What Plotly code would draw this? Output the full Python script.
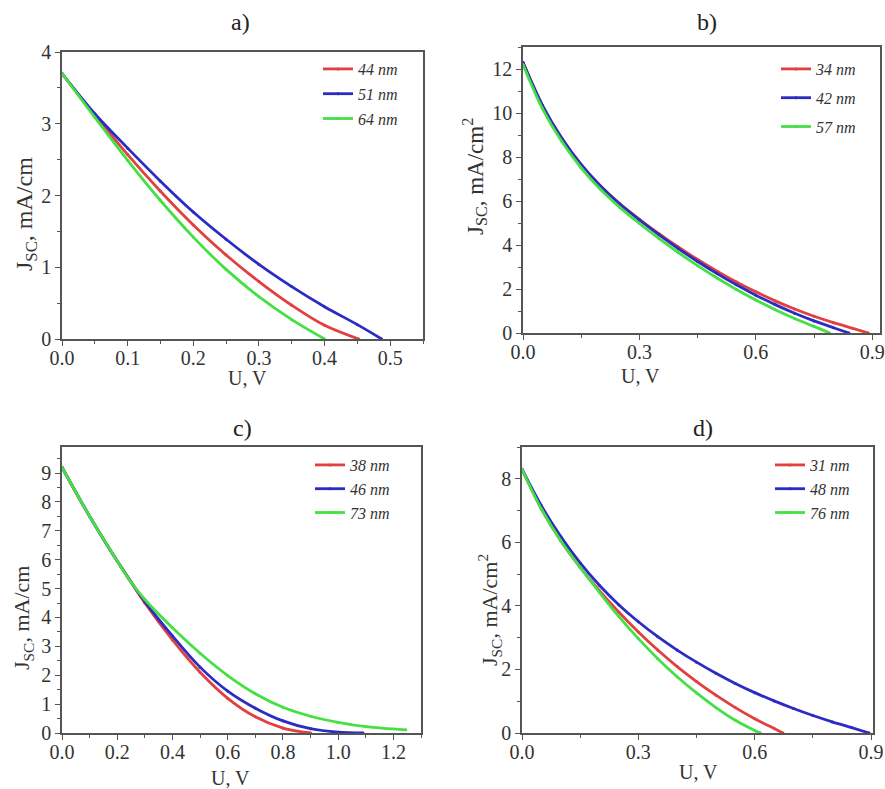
import plotly.graph_objects as go

# ---------------- data ----------------
# Panel a)
a_labels = ["44 nm", "51 nm", "64 nm"]
a_u_44 = [0, 0.05, 0.10, 0.15, 0.20, 0.25, 0.30, 0.35, 0.40, 0.452]
a_j_44 = [3.70, 3.12, 2.57, 2.06, 1.59, 1.17, 0.80, 0.47, 0.19, 0.0]
a_u_51 = [0, 0.05, 0.10, 0.15, 0.20, 0.25, 0.30, 0.35, 0.40, 0.45, 0.487]
a_j_51 = [3.70, 3.14, 2.66, 2.20, 1.77, 1.39, 1.04, 0.73, 0.45, 0.20, 0.0]
a_u_64 = [0, 0.05, 0.10, 0.15, 0.20, 0.25, 0.30, 0.35, 0.40]
a_j_64 = [3.70, 3.09, 2.49, 1.93, 1.42, 0.97, 0.59, 0.27, 0.0]

# Panel b)
b_labels = ["34 nm", "42 nm", "57 nm"]
b_u_34 = [0, 0.05, 0.10, 0.15, 0.20, 0.25, 0.30, 0.35, 0.40, 0.45, 0.50, 0.55, 0.60, 0.65, 0.70, 0.75, 0.80, 0.85, 0.89]
b_j_34 = [12.3, 10.35, 8.85, 7.65, 6.68, 5.87, 5.17, 4.52, 3.91, 3.34, 2.81, 2.32, 1.87, 1.46, 1.09, 0.76, 0.47, 0.21, 0.0]
b_u_42 = [0, 0.05, 0.10, 0.15, 0.20, 0.25, 0.30, 0.35, 0.40, 0.45, 0.50, 0.55, 0.60, 0.65, 0.70, 0.75, 0.80, 0.84]
b_j_42 = [12.3, 10.35, 8.85, 7.65, 6.67, 5.85, 5.14, 4.47, 3.84, 3.25, 2.70, 2.19, 1.72, 1.29, 0.90, 0.55, 0.24, 0.0]
b_u_57 = [0, 0.05, 0.10, 0.15, 0.20, 0.25, 0.30, 0.35, 0.40, 0.45, 0.50, 0.55, 0.60, 0.65, 0.70, 0.75, 0.79]
b_j_57 = [12.2, 10.2, 8.7, 7.5, 6.52, 5.70, 4.98, 4.30, 3.66, 3.06, 2.50, 1.98, 1.50, 1.06, 0.66, 0.30, 0.0]

# Panel c)
c_labels = ["38 nm", "46 nm", "73 nm"]
c_u_38 = [0, 0.10, 0.20, 0.30, 0.40, 0.50, 0.60, 0.70, 0.80, 0.90]
c_j_38 = [9.2, 7.5, 5.95, 4.50, 3.22, 2.10, 1.20, 0.56, 0.17, 0.0]
c_u_46 = [0, 0.10, 0.20, 0.30, 0.40, 0.50, 0.60, 0.70, 0.80, 0.90, 1.00, 1.09]
c_j_46 = [9.2, 7.5, 5.95, 4.55, 3.36, 2.28, 1.45, 0.86, 0.42, 0.15, 0.03, 0.0]
c_u_73 = [0, 0.10, 0.20, 0.25, 0.30, 0.40, 0.50, 0.60, 0.70, 0.80, 0.90, 1.00, 1.10, 1.245]
c_j_73 = [9.2, 7.5, 5.95, 5.22, 4.62, 3.64, 2.76, 1.99, 1.36, 0.89, 0.58, 0.37, 0.22, 0.11]

# Panel d)
d_labels = ["31 nm", "48 nm", "76 nm"]
d_u_31 = [0, 0.05, 0.10, 0.15, 0.20, 0.25, 0.30, 0.35, 0.40, 0.45, 0.50, 0.55, 0.60, 0.65, 0.673]
d_j_31 = [8.3, 7.05, 6.05, 5.21, 4.47, 3.80, 3.18, 2.61, 2.09, 1.62, 1.19, 0.80, 0.45, 0.14, 0.0]
d_u_48 = [0, 0.05, 0.10, 0.15, 0.20, 0.25, 0.30, 0.35, 0.40, 0.45, 0.50, 0.55, 0.60, 0.65, 0.70, 0.75, 0.80, 0.85, 0.895]
d_j_48 = [8.3, 7.15, 6.18, 5.35, 4.64, 4.03, 3.50, 3.03, 2.61, 2.23, 1.88, 1.56, 1.27, 1.01, 0.77, 0.55, 0.35, 0.17, 0.0]
d_u_76 = [0, 0.05, 0.10, 0.15, 0.20, 0.25, 0.30, 0.35, 0.40, 0.45, 0.50, 0.55, 0.60, 0.615]
d_j_76 = [8.3, 7.05, 6.05, 5.21, 4.42, 3.66, 2.97, 2.34, 1.77, 1.26, 0.80, 0.40, 0.08, 0.0]

panel_titles = ["a)", "b)", "c)", "d)"]
x_title = "U, V"
y_titles = ["J<sub>SC</sub>, mA/cm", "J<sub>SC</sub>, mA/cm<sup>2</sup>",
            "J<sub>SC</sub>, mA/cm", "J<sub>SC</sub>, mA/cm<sup>2</sup>"]

colors = ["#e2403e", "#2c2cc4", "#44e044"]
FONT = "Liberation Serif"
W, H = 885, 789

panels = [
    dict(series=[(a_u_44, a_j_44), (a_u_51, a_j_51), (a_u_64, a_j_64)], labels=a_labels,
         px=(62, 423), py=(52, 339), xr=[0, 0.55], yr=[0, 4], xd=0.1, xm=0.05, yd=1, ym=0.5,
         leg=(318, 52), gap=1, title=(240, 22), xt=(247, 378), yt=(26, 214, 24)),
    dict(series=[(b_u_34, b_j_34), (b_u_42, b_j_42), (b_u_57, b_j_57)], labels=b_labels,
         px=(523, 880), py=(47, 333), xr=[0, 0.92], yr=[0, 13], xd=0.3, xm=0.15, yd=2, ym=1,
         leg=(776, 52), gap=5, title=(707, 22), xt=(640, 376), yt=(474, 177, 23)),
    dict(series=[(c_u_38, c_j_38), (c_u_46, c_j_46), (c_u_73, c_j_73)], labels=c_labels,
         px=(62, 421), py=(447, 733), xr=[0, 1.3], yr=[0, 9.9], xd=0.2, xm=0.1, yd=1, ym=0.5,
         leg=(310, 448), gap=0, title=(242, 428), xt=(230, 778), yt=(23, 618, 22)),
    dict(series=[(d_u_31, d_j_31), (d_u_48, d_j_48), (d_u_76, d_j_76)], labels=d_labels,
         px=(522, 873), py=(447, 733), xr=[0, 0.905], yr=[0, 9], xd=0.3, xm=0.15, yd=2, ym=1,
         leg=(770, 448), gap=0, title=(703, 428), xt=(698, 772), yt=(489, 610, 22)),
]

fig = go.Figure()
annotations = []
layout = {}
for i, p in enumerate(panels):
    n = "" if i == 0 else str(i + 1)
    legname = "legend" if i == 0 else f"legend{i + 1}"
    for k, (u, j) in enumerate(p["series"]):
        fig.add_trace(go.Scatter(
            x=u, y=j, mode="lines+markers", name=p["labels"][k],
            line=dict(color=colors[k], width=2.8, shape="spline", smoothing=1.0),
            marker=dict(size=3, color=colors[k]),
            xaxis="x" + n, yaxis="y" + n, legend=legname,
            legendgroup=f"g{i}{k}", showlegend=True,
        ))
    x0, x1 = p["px"]
    y0, y1 = p["py"]
    dx = [x0 / W, x1 / W]
    dy = [1 - y1 / H, 1 - y0 / H]
    axcommon = dict(showgrid=False, zeroline=False, showline=True, linecolor="#555555",
                    linewidth=1.5, mirror=True, ticks="outside", ticklen=5, tickwidth=1.2,
                    tickcolor="#555555", automargin=False,
                    tickfont=dict(family=FONT, size=20, color="#333333"))
    layout["xaxis" + n] = dict(axcommon, domain=dx, range=p["xr"], dtick=p["xd"], tick0=0,
                               tickformat=".1f", anchor="y" + n, ticklabelstandoff=-5,
                               minor=dict(dtick=p["xm"], ticklen=3, ticks="outside",
                                          tickcolor="#555555"))
    layout["yaxis" + n] = dict(axcommon, domain=dy, range=p["yr"], dtick=p["yd"], tick0=0,
                               anchor="x" + n,
                               minor=dict(dtick=p["ym"], ticklen=3, ticks="outside",
                                          tickcolor="#555555"))
    lx, ly = p["leg"]
    layout[legname] = dict(x=lx / W, y=1 - ly / H, xanchor="left", yanchor="top",
                           bgcolor="rgba(0,0,0,0)", borderwidth=0,
                           font=dict(family=FONT, size=16, color="#333333", style="italic"),
                           traceorder="grouped", tracegroupgap=p["gap"], itemwidth=30)
    tx, ty = p["title"]
    annotations.append(dict(text=panel_titles[i], x=tx / W, y=1 - ty / H,
                            xref="paper", yref="paper", showarrow=False,
                            font=dict(family=FONT, size=24, color="#222222"),
                            xanchor="center", yanchor="middle"))
    xx, xy = p["xt"]
    annotations.append(dict(text=x_title, x=xx / W, y=1 - xy / H,
                            xref="paper", yref="paper", showarrow=False,
                            font=dict(family=FONT, size=20, color="#333333"),
                            xanchor="center", yanchor="middle"))
    yx, yy, ys = p["yt"]
    annotations.append(dict(text=y_titles[i], x=yx / W, y=1 - yy / H,
                            xref="paper", yref="paper", showarrow=False, textangle=-90,
                            font=dict(family=FONT, size=ys, color="#333333"),
                            xanchor="center", yanchor="middle"))

fig.update_layout(
    width=W, height=H, margin=dict(l=0, r=0, t=0, b=0, autoexpand=False),
    paper_bgcolor="white", plot_bgcolor="white", template="none",
    font=dict(family=FONT, color="#333333"),
    annotations=annotations, **layout,
)
fig.write_html("out.html", config={"displayModeBar": False},
               post_script="document.body.style.margin='0';document.body.style.padding='0';")
